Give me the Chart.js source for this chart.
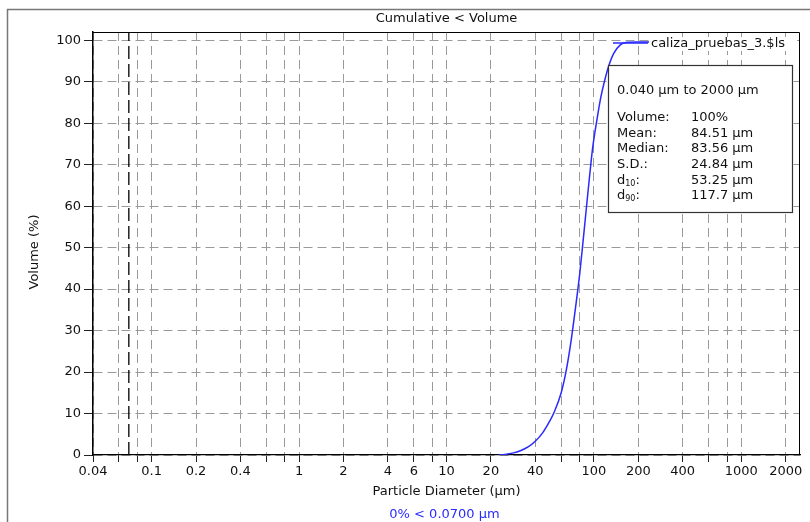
<!DOCTYPE html>
<html>
<head>
<meta charset="utf-8">
<script src="https://cdn.jsdelivr.net/npm/chart.js@4/dist/chart.umd.min.js"></script>
<style>
  html, body { margin: 0; padding: 0; background: #fff; }
  #wrap { width: 810px; height: 522px; position: relative; }
</style>
</head>
<body>
<div id="wrap"><canvas id="chart" width="810" height="522"></canvas></div>
<script>
// Cumulative undersize distribution (particle diameter in µm, cumulative volume in %)
const SIZES = [22.6, 25, 28, 32, 36, 40, 45, 50, 53.25, 60, 65, 70, 75, 80, 83.56, 88, 93, 98, 105, 111, 117.7, 126, 136, 151, 168, 200, 400, 1000, 2000];
const CUMULATIVE = [0, 0.15, 0.45, 1.1, 2.0, 3.3, 5.4, 8.1, 10, 15.0, 20.5, 27.5, 35.5, 43.5, 50, 58, 66.5, 74, 81, 86, 90, 93.8, 96.8, 98.9, 99.5, 99.6, 99.6, 99.6, 99.6];

// Axis ticks
const X_GRID_VALUES = [0.04, 0.06, 0.08, 0.1, 0.2, 0.4, 0.6, 0.8, 1, 2, 4, 6, 8, 10, 20, 40, 60, 80, 100, 200, 400, 600, 800, 1000, 2000];
const X_LABELED = [0.04, 0.1, 0.2, 0.4, 1, 2, 4, 6, 10, 20, 40, 100, 200, 400, 1000, 2000];
const Y_TICKS = [0, 10, 20, 30, 40, 50, 60, 70, 80, 90, 100];

// Lower detection limit marker
const LOWER_LIMIT = 0.07;

// Texts
const TITLE = 'Cumulative < Volume';
const X_TITLE = 'Particle Diameter (µm)';
const Y_TITLE = 'Volume (%)';
const FOOTNOTE = '0% < 0.0700 µm';
const SAMPLE_NAME = 'caliza_pruebas_3.$ls';
const RANGE_TEXT = '0.040 µm to 2000 µm';
const STAT_NAMES = ['Volume:', 'Mean:', 'Median:', 'S.D.:', 'd|10|:', 'd|90|:'];
const STAT_VALUES = ['100%', '84.51 µm', '83.56 µm', '24.84 µm', '53.25 µm', '117.7 µm'];

const FONT = '"DejaVu Sans", sans-serif';
const BLUE = '#2a2aff';
const TEXT = '#111';

const decorations = {
  id: 'decorations',
  beforeDraw(chart) {
    const ctx = chart.ctx;
    ctx.save();
    ctx.fillStyle = '#fff';
    ctx.fillRect(0, 0, chart.width, chart.height);
    ctx.restore();
  },
  afterDatasetsDraw(chart) {
    const ctx = chart.ctx;
    const a = chart.chartArea;
    ctx.save();

    // outer frame
    ctx.strokeStyle = '#777';
    ctx.lineWidth = 1.5;
    ctx.beginPath();
    ctx.moveTo(7.5, chart.height);
    ctx.lineTo(7.5, 9.5);
    ctx.lineTo(chart.width, 9.5);
    ctx.stroke();

    // plot frame (top, right)
    ctx.strokeStyle = '#000';
    ctx.lineWidth = 1;
    ctx.beginPath();
    ctx.moveTo(a.left, a.top + 0.5);
    ctx.lineTo(a.right - 0.5, a.top + 0.5);
    ctx.lineTo(a.right - 0.5, a.bottom);
    ctx.stroke();

    // titles
    ctx.fillStyle = TEXT;
    ctx.font = '13px ' + FONT;
    ctx.textAlign = 'center';
    ctx.textBaseline = 'middle';
    const cx = (a.left + a.right) / 2;
    ctx.fillText(TITLE, cx, 18.5);
    ctx.fillText(X_TITLE, cx, 492);
    ctx.fillStyle = BLUE;
    ctx.fillText(FOOTNOTE, cx - 2, 515);
    ctx.fillStyle = TEXT;
    ctx.save();
    ctx.translate(35, 252);
    ctx.rotate(-Math.PI / 2);
    ctx.fillText(Y_TITLE, 0, 0);
    ctx.restore();

    // sample legend
    ctx.fillStyle = '#fff';
    ctx.fillRect(649, 37, 148, 14);
    ctx.strokeStyle = BLUE;
    ctx.lineWidth = 1.5;
    ctx.beginPath();
    ctx.moveTo(613, 43);
    ctx.lineTo(648, 43);
    ctx.stroke();
    ctx.fillStyle = TEXT;
    ctx.textAlign = 'left';
    ctx.fillText(SAMPLE_NAME, 651, 44);

    // statistics box
    ctx.fillStyle = '#fff';
    ctx.fillRect(608.5, 65.5, 184, 147);
    ctx.strokeStyle = '#333';
    ctx.lineWidth = 1.2;
    ctx.strokeRect(608.5, 65.5, 184, 147);
    ctx.fillStyle = TEXT;
    ctx.fillText(RANGE_TEXT, 617, 91);
    const rowY = [118, 133.5, 149, 165, 180.5, 196];
    STAT_NAMES.forEach((name, i) => {
      const y = rowY[i];
      if (name.includes('|')) {
        const [base, sub, tail] = name.split('|');
        ctx.font = '13px ' + FONT;
        ctx.fillText(base, 617, y);
        let x = 617 + ctx.measureText(base).width;
        ctx.font = '8px ' + FONT;
        ctx.fillText(sub, x, y + 3);
        x += ctx.measureText(sub).width;
        ctx.font = '13px ' + FONT;
        ctx.fillText(tail, x, y);
      } else {
        ctx.font = '13px ' + FONT;
        ctx.fillText(name, 617, y);
      }
      ctx.fillText(STAT_VALUES[i], 691, y);
    });
    ctx.restore();
  }
};

const ctx = document.getElementById('chart').getContext('2d');
new Chart(ctx, {
  type: 'line',
  data: {
    datasets: [
      {
        data: SIZES.map((s, i) => ({ x: s, y: CUMULATIVE[i] })),
        borderColor: BLUE,
        borderWidth: 1.5,
        pointRadius: 0,
        cubicInterpolationMode: 'monotone',
        fill: false
      },
      {
        data: [{ x: LOWER_LIMIT, y: 0 }, { x: LOWER_LIMIT, y: 102 }],
        borderColor: '#000',
        borderWidth: 1.3,
        borderDash: [13, 5],
        pointRadius: 0,
        fill: false
      }
    ]
  },
  options: {
    responsive: false,
    animation: false,
    events: [],
    layout: { padding: { left: 0, top: 32, right: 10, bottom: 0 } },
    plugins: { legend: { display: false }, title: { display: false }, tooltip: { enabled: false } },
    scales: {
      x: {
        type: 'logarithmic',
        min: 0.04,
        max: 2500,
        afterBuildTicks: s => { s.ticks = X_GRID_VALUES.map(v => ({ value: v })); },
        afterFit: s => { s.height = 67; },
        ticks: {
          autoSkip: false,
          maxRotation: 0,
          padding: 2,
          color: TEXT,
          font: { family: FONT, size: 13 },
          callback: v => (X_LABELED.includes(v) ? String(v) : '')
        },
        grid: { color: '#9a9a9a', lineWidth: 1, tickLength: 7, tickColor: '#222', tickWidth: 1 },
        border: { color: '#000', width: 1.2, dash: [9, 5] }
      },
      y: {
        type: 'linear',
        min: 0,
        max: 102,
        afterBuildTicks: s => { s.ticks = Y_TICKS.map(v => ({ value: v })); },
        afterFit: s => { s.width = 93; },
        ticks: {
          padding: 3,
          color: TEXT,
          font: { family: FONT, size: 13 },
          callback: v => String(v)
        },
        grid: { color: '#9a9a9a', lineWidth: 1, tickLength: 9, tickColor: '#222', tickWidth: 1 },
        border: { color: '#000', width: 1.5, dash: [9, 5] }
      }
    }
  },
  plugins: [decorations]
});
</script>
</body>
</html>
